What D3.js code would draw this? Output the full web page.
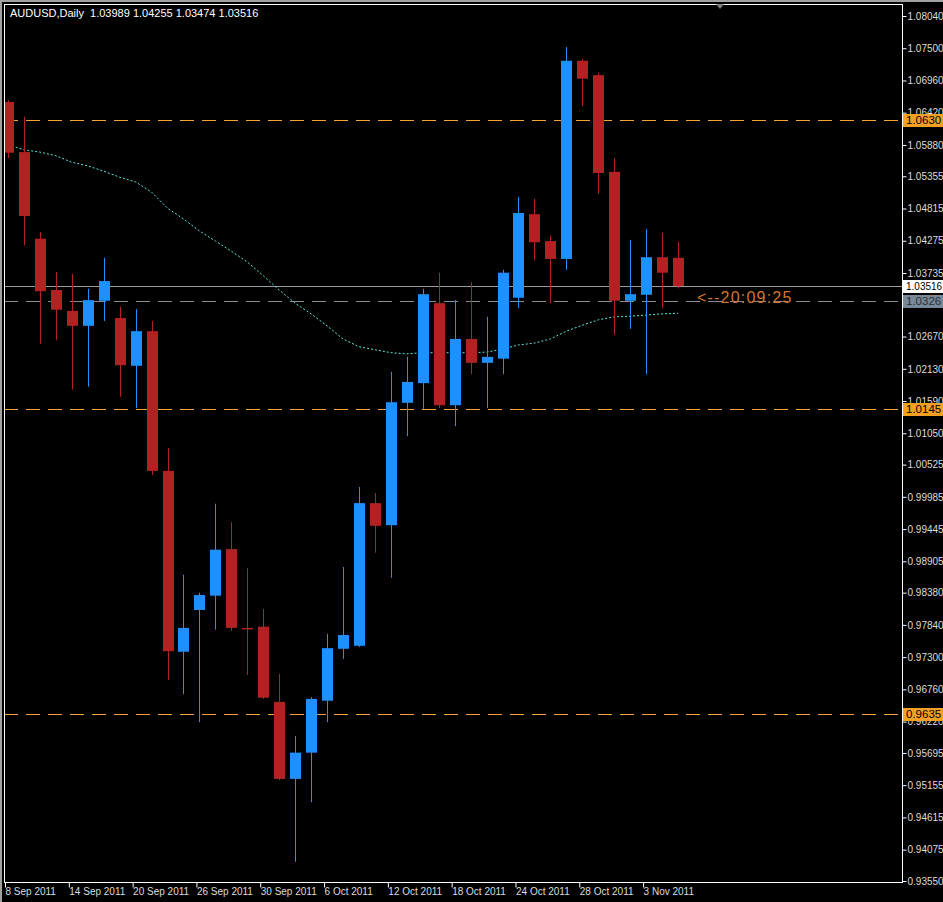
<!DOCTYPE html>
<html>
<head>
<meta charset="utf-8">
<script src="https://cdn.jsdelivr.net/npm/d3@7"></script>
<style>
  html, body { margin: 0; padding: 0; background: #000; }
  svg { display: block; }
  text { font-family: "Liberation Sans", Arial, sans-serif; }
</style>
</head>
<body>
<div id="chart"></div>
<script>
const W = 943, H = 902
const PLOT = { LEFT: 4, TOP: 4, RIGHT: 902, BOTTOM: 882 }

// daily candles AUDUSD, 8 Sep 2011 .. 4 Nov 2011
const opens  = [1.0660, 1.0576, 1.0431, 1.0345, 1.0310, 1.0285, 1.0327, 1.0298, 1.0218, 1.0276,
                1.0042, 0.9739, 0.9809, 0.9833, 0.9911, 0.9779, 0.9781, 0.9655, 0.9526, 0.9570,
                0.9657, 0.9744, 0.9749, 0.9988, 0.9951, 1.0156, 1.0189, 1.0323, 1.0152, 1.0263,
                1.0223, 1.0230, 1.0332, 1.0472, 1.0427, 1.0397, 1.0729, 1.0705, 1.0543, 1.0327,
                1.0337, 1.0400, 1.03989]
const highs  = [1.0663, 1.0635, 1.0442, 1.0375, 1.0372, 1.0347, 1.0399, 1.0317, 1.0313, 1.0293,
                1.0080, 0.9868, 0.9838, 0.9987, 0.9956, 0.9879, 0.9811, 0.9702, 0.9598, 0.9663,
                0.9769, 0.9881, 1.0015, 1.0005, 1.0208, 1.0233, 1.0347, 1.0374, 1.0328, 1.0358,
                1.0300, 1.0379, 1.0501, 1.0498, 1.0436, 1.0752, 1.0732, 1.0709, 1.0566, 1.0429,
                1.0447, 1.0441, 1.04255]
const lows   = [1.0566, 1.0420, 1.0255, 1.0261, 1.0178, 1.0183, 1.0293, 1.0166, 1.0147, 1.0035,
                0.9692, 0.9668, 0.9621, 0.9776, 0.9774, 0.9700, 0.9660, 0.9524, 0.9387, 0.9487,
                0.9621, 0.9727, 0.9747, 0.9905, 0.9863, 1.0100, 1.0146, 1.0147, 1.0117, 1.0204,
                1.0147, 1.0204, 1.0315, 1.0395, 1.0323, 1.0379, 1.0653, 1.0506, 1.0270, 1.0280,
                1.0204, 1.0315, 1.03474]
const closes = [1.0575, 1.0469, 1.0343, 1.0312, 1.0285, 1.0328, 1.0360, 1.0219, 1.0276, 1.0042,
                0.9740, 0.9779, 0.9834, 0.9910, 0.9779, 0.9777, 0.9662, 0.9526, 0.9570, 0.9660,
                0.9745, 0.9767, 0.9988, 0.9950, 1.0157, 1.0191, 1.0338, 1.0152, 1.0263, 1.0223,
                1.0233, 1.0374, 1.0474, 1.0425, 1.0397, 1.0729, 1.0699, 1.0541, 1.0327, 1.0338,
                1.0400, 1.0374, 1.03516]
const maValues = [1.0588, 1.0580, 1.0576, 1.0570, 1.0559, 1.0553, 1.0544, 1.0534, 1.0526, 1.0509,
                  1.0482, 1.0464, 1.0444, 1.0427, 1.0410, 1.0392, 1.0369, 1.0345, 1.0323, 1.0305,
                  1.0285, 1.0263, 1.0250, 1.0245, 1.0240, 1.0238, 1.0240, 1.0240, 1.0240, 1.0240,
                  1.0241, 1.0246, 1.0253, 1.0256, 1.0263, 1.0276, 1.0286, 1.0295, 1.0300, 1.0301,
                  1.0303, 1.0305, 1.0306]

const dateTicks = [0, 4, 8, 12, 16, 20, 24, 28, 32, 36, 40]
const dateLabels = ["8 Sep 2011", "14 Sep 2011", "20 Sep 2011", "26 Sep 2011", "30 Sep 2011",
                    "6 Oct 2011", "12 Oct 2011", "18 Oct 2011", "24 Oct 2011", "28 Oct 2011", "3 Nov 2011"]
const priceTicks = [1.08040, 1.07500, 1.06960, 1.06420, 1.05880, 1.05355, 1.04815, 1.04275,
                    1.03735, 1.02670, 1.02130, 1.01590, 1.01050, 1.00525, 0.99985, 0.99445,
                    0.98905, 0.98380, 0.97840, 0.97300, 0.96760, 0.96220, 0.95695, 0.95155,
                    0.94615, 0.94075, 0.93550]
const levels = [1.0630, 1.0145, 0.9635]
const bid = 1.03516
const ask = 1.0326
const timerText = "<--20:09:25"
const title = "AUDUSD,Daily  1.03989 1.04255 1.03474 1.03516"

const svg = d3.select("#chart").append("svg").attr("width", W).attr("height", H)
svg.append("rect").attr("width", W).attr("height", H).attr("fill", "#000")
// window frame
svg.append("rect").attr("x", 0).attr("y", 0).attr("width", W).attr("height", 2).attr("fill", "#a0a0a0")
svg.append("rect").attr("x", 0).attr("y", 0).attr("width", 2).attr("height", H).attr("fill", "#a0a0a0")

const x = d3.scaleLinear().domain([0, 42]).range([8, 678])
const y = d3.scaleLinear().domain([0.9355, 1.0804]).range([881, 16])

// plot border
svg.append("rect")
    .attr("x", PLOT.LEFT + 0.5).attr("y", PLOT.TOP + 0.5)
    .attr("width", PLOT.RIGHT - PLOT.LEFT).attr("height", PLOT.BOTTOM - PLOT.TOP)
    .attr("fill", "none").attr("stroke", "#fff")

const plot = svg.append("g")
plot.append("clipPath").attr("id", "clip").append("rect")
    .attr("x", PLOT.LEFT + 1).attr("y", PLOT.TOP + 1)
    .attr("width", PLOT.RIGHT - PLOT.LEFT - 1).attr("height", PLOT.BOTTOM - PLOT.TOP - 1)
const g = plot.append("g").attr("clip-path", "url(#clip)")

// support / resistance levels
g.selectAll("line.level").data(levels).enter().append("line")
    .attr("x1", PLOT.LEFT).attr("x2", PLOT.RIGHT)
    .attr("y1", d => Math.round(y(d)) + 0.5).attr("y2", d => Math.round(y(d)) + 0.5)
    .attr("stroke", "#f5a034").attr("stroke-dasharray", "14,8")

g.append("line").attr("x1", PLOT.LEFT).attr("x2", PLOT.RIGHT)
    .attr("y1", Math.round(y(bid)) + 0.5).attr("y2", Math.round(y(bid)) + 0.5)
    .attr("stroke", "#9a9aa0")
g.append("line").attr("x1", PLOT.LEFT).attr("x2", PLOT.RIGHT)
    .attr("y1", Math.round(y(ask)) + 0.5).attr("y2", Math.round(y(ask)) + 0.5)
    .attr("stroke", "#8a8a90").attr("stroke-dasharray", "14,8")

// moving average
g.append("path")
    .datum(maValues)
    .attr("fill", "none")
    .attr("stroke", "#5ae8da")
    .attr("stroke-dasharray", "2,2")
    .attr("d", d3.line().x((d, i) => x(i)).y(d => y(d)))

// candles
const candles = opens.map((o, i) => ({ i, o, h: highs[i], l: lows[i], c: closes[i] }))
const color = d => d.c >= d.o ? "#1e90ff" : "#b22222"

g.selectAll("line.wick").data(candles).enter().append("line")
    .attr("x1", d => Math.round(x(d.i)) + 0.5).attr("x2", d => Math.round(x(d.i)) + 0.5)
    .attr("y1", d => y(d.h)).attr("y2", d => y(d.l))
    .attr("stroke", color)

g.selectAll("rect.body").data(candles).enter().append("rect")
    .attr("x", d => Math.round(x(d.i)) - 5)
    .attr("width", 11)
    .attr("y", d => y(Math.max(d.o, d.c)))
    .attr("height", d => Math.max(1.5, Math.abs(y(d.o) - y(d.c))))
    .attr("fill", color)

// price axis
const yAxis = svg.append("g").attr("transform", `translate(${PLOT.RIGHT + 0.5},0)`)
    .call(d3.axisRight(y).tickValues(priceTicks).tickSize(4).tickFormat(d3.format(".5f")))
yAxis.select(".domain").remove()
yAxis.selectAll("line").attr("stroke", "#fff")
yAxis.selectAll("text").attr("fill", "#dcdcdc").attr("font-size", 10).attr("x", 5)

// highlighted price labels
const tags = levels.map(v => ({ v, text: v.toFixed(4), bg: "#f5a023", fg: "#000" }))
    .concat([{ v: bid, text: bid.toFixed(5), bg: "#fff", fg: "#000" },
             { v: ask, text: ask.toFixed(4), bg: "#778899", fg: "#2a2f36" }])
const tag = svg.selectAll("g.tag").data(tags).enter().append("g")
    .attr("transform", d => `translate(${PLOT.RIGHT + 1},${Math.round(y(d.v))})`)
tag.append("rect").attr("x", 0).attr("y", -6).attr("width", 40).attr("height", 13).attr("fill", d => d.bg)
tag.append("text").attr("x", 3).attr("y", 4)
    .attr("font-size", d => d.text.length > 6 ? 10 : 11.5)
    .attr("fill", d => d.fg).text(d => d.text)

// time axis
const xAxis = svg.append("g").attr("transform", `translate(-3,${PLOT.BOTTOM + 0.5})`)
    .call(d3.axisBottom(x).tickValues(dateTicks).tickSize(5).tickFormat((d, i) => dateLabels[i]))
xAxis.select(".domain").remove()
xAxis.selectAll("line").attr("stroke", "#fff")
xAxis.selectAll("text").attr("fill", "#dcdcdc").attr("font-size", 10)
    .attr("text-anchor", "start").attr("dx", 0).attr("y", 5)

// title and countdown
svg.append("text").attr("x", 10).attr("y", 17).attr("fill", "#fff").attr("font-size", 11)
    .attr("xml:space", "preserve").text(title)
svg.append("text").attr("x", 697).attr("y", 303).attr("fill", "#d2762f").attr("font-size", 16)
    .attr("letter-spacing", 1.2).text(timerText)

// shift marker
svg.append("path").attr("d", "M716,4 L724,4 L720,9 Z").attr("fill", "#808080")
</script>
</body>
</html>
